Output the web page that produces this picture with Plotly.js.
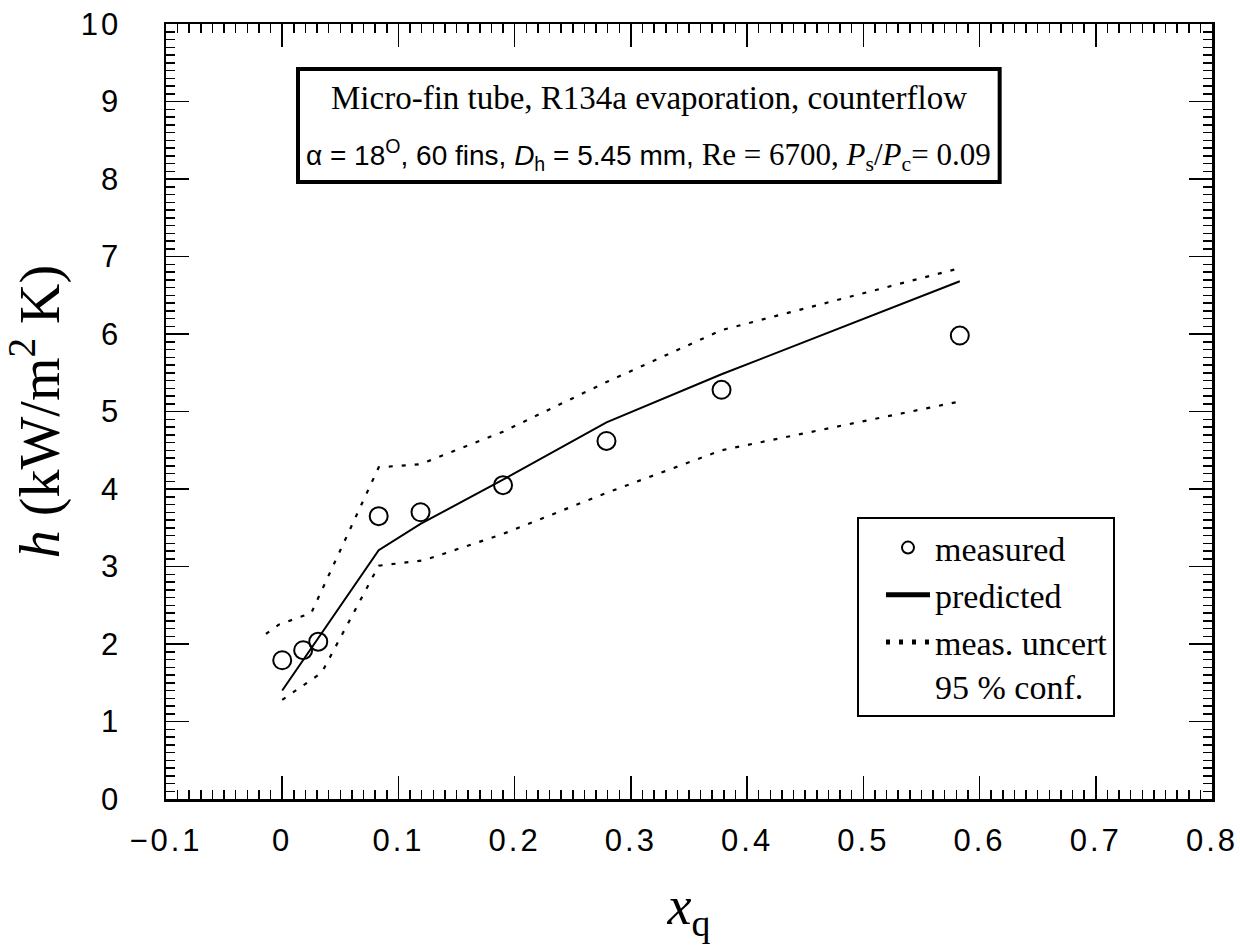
<!DOCTYPE html>
<html>
<head>
<meta charset="utf-8">
<script src="https://cdn.plot.ly/plotly-3.0.1.min.js"></script>
<style>
  html, body { margin: 0; padding: 0; background: #fff; }
  #chart { width: 1240px; height: 951px; }
  .xtick text, .ytick text { letter-spacing: 3px; }
</style>
</head>
<body>
<div id="chart"></div>
<script>
// Vapor quality x_q and heat transfer coefficient h (kW/m^2 K)
const measX = [0.000, 0.018, 0.031, 0.083, 0.119, 0.190, 0.279, 0.378, 0.583];
const measH = [1.79, 1.92, 2.03, 3.65, 3.70, 4.05, 4.62, 5.28, 5.98];

const predX = [0.000, 0.018, 0.031, 0.083, 0.119, 0.190, 0.279, 0.378, 0.583];
const predH = [1.40, 1.79, 2.07, 3.21, 3.55, 4.12, 4.86, 5.48, 6.68];

// 95 % confidence band of the measurement uncertainty
const upperX = [-0.014, -0.003, 0.025, 0.083, 0.119, 0.190, 0.279, 0.378, 0.583];
const upperH = [2.13, 2.25, 2.40, 4.28, 4.32, 4.74, 5.38, 6.05, 6.85];
const lowerX = [0.000, 0.017, 0.034, 0.083, 0.122, 0.190, 0.279, 0.378, 0.580];
const lowerH = [1.28, 1.45, 1.63, 3.01, 3.08, 3.42, 3.95, 4.50, 5.12];

const serif = 'Liberation Serif, Times New Roman, serif';
const sans = 'Liberation Sans, Arial, sans-serif';
const dotted = '4px,9px';

const traces = [
  {
    x: measX, y: measH, type: 'scatter', mode: 'markers', name: 'measured',
    marker: { symbol: 'circle-open', size: 18, color: '#000', line: { width: 2, color: '#000' } }
  },
  {
    x: predX, y: predH, type: 'scatter', mode: 'lines', name: 'predicted',
    line: { color: '#000', width: 2 }
  },
  {
    x: upperX, y: upperH, type: 'scatter', mode: 'lines', name: 'meas. uncert<br>95 % conf.',
    line: { color: '#000', width: 2.2, dash: dotted }
  },
  {
    x: lowerX, y: lowerH, type: 'scatter', mode: 'lines', name: 'lower', showlegend: false,
    line: { color: '#000', width: 2.2, dash: dotted }
  }
];

const axisCommon = {
  showgrid: false, zeroline: false,
  showline: true, linecolor: '#000', linewidth: 2.5, mirror: 'allticks',
  ticks: 'inside', ticklen: 23, tickwidth: 1.5, tickcolor: '#000',
  tickfont: { family: sans, size: 31, color: '#000' }
};

const layout = {
  width: 1240, height: 951,
  margin: { l: 166, r: 28, t: 24, b: 152 },
  paper_bgcolor: '#fff', plot_bgcolor: '#fff',
  showlegend: true,
  xaxis: Object.assign({}, axisCommon, {
    range: [-0.1, 0.8], tick0: 0, dtick: 0.1,
    ticklabelstandoff: 12,
    minor: { dtick: 0.01, ticks: 'inside', ticklen: 9, tickwidth: 1.5, tickcolor: '#000', showgrid: false },
    title: { text: '<i>x</i><sub>q</sub>', font: { family: serif, size: 54, color: '#000' }, standoff: 30 }
  }),
  yaxis: Object.assign({}, axisCommon, {
    range: [0, 10], tick0: 0, dtick: 1,
    ticklabelstandoff: 36,
    minor: { dtick: 0.1, ticks: 'inside', ticklen: 9, tickwidth: 1.5, tickcolor: '#000', showgrid: false },
    title: { text: '<i>h</i> (kW/m<sup>2</sup> K)', font: { family: serif, size: 56, color: '#000' }, standoff: 18 }
  }),
  legend: {
    x: 0.6606, y: 0.3639, xanchor: 'left', yanchor: 'top',
    bgcolor: '#fff', bordercolor: '#000', borderwidth: 2,
    font: { family: serif, size: 34, color: '#000' },
    itemsizing: 'constant', valign: 'top', traceorder: 'normal',
    indentation: 22, itemwidth: 44,
    entrywidthmode: 'pixels', entrywidth: 210
  },
  shapes: [
    { type: 'rect', xref: 'paper', yref: 'paper', x0: 0.1262, x1: 0.797, y0: 0.796, y1: 0.942,
      line: { color: '#000', width: 4 }, fillcolor: 'rgba(0,0,0,0)' }
  ],
  annotations: [
    { xref: 'paper', yref: 'paper', x: 0.4616, y: 0.905, xanchor: 'center', yanchor: 'middle',
      showarrow: false, font: { family: serif, size: 33, color: '#000' },
      text: 'Micro-fin tube, R134a evaporation, counterflow' },
    { xref: 'paper', yref: 'paper', x: 0.4616, y: 0.830, xanchor: 'center', yanchor: 'middle',
      showarrow: false, font: { family: serif, size: 31, color: '#000' },
      text: '<span style="font-family:Liberation Sans Narrow, Arial Narrow, Liberation Sans;font-size:28px">α = 18<sup>O</sup>, 60 fins, <i>D</i><sub>h</sub> = 5.45 mm,</span> Re = 6700, <i>P</i><sub>s</sub>/<i>P</i><sub>c</sub>= 0.09' }
  ]
};

Plotly.newPlot('chart', traces, layout, { staticPlot: true });
</script>
</body>
</html>
